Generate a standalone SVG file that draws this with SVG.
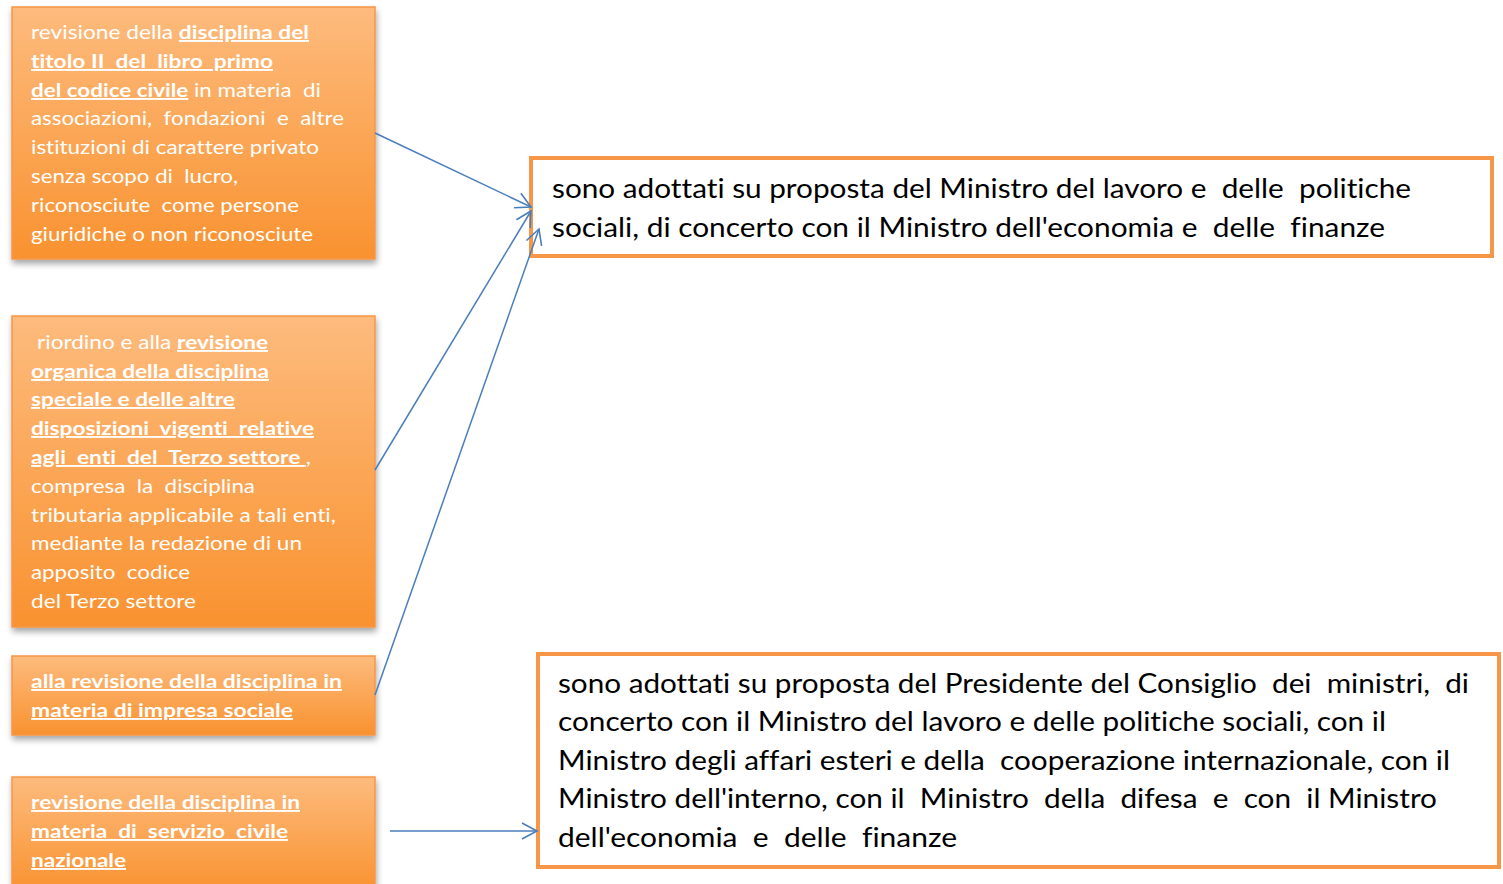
<svg xmlns="http://www.w3.org/2000/svg" width="1503" height="884" viewBox="0 0 1503 884" xml:space="preserve">
<defs>
<linearGradient id="og" x1="0" y1="0" x2="0" y2="1">
<stop offset="0" stop-color="#FDBB7D"/>
<stop offset="1" stop-color="#F99230"/>
</linearGradient>
<filter id="sh" x="-10%" y="-10%" width="125%" height="130%">
<feDropShadow dx="1" dy="4" stdDeviation="3" flood-color="#000" flood-opacity="0.35"/>
</filter>
<marker id="arr" markerUnits="userSpaceOnUse" markerWidth="20" markerHeight="20" refX="16" refY="9" orient="auto" viewBox="0 0 20 18">
<path d="M1,1 L16,9 L1,17" fill="none" stroke="#4A7EBB" stroke-width="1.6"/>
</marker>
</defs>
<style>
text{white-space:pre;font-variant-ligatures:none;font-feature-settings:"liga" 0,"dlig" 0}
.src{fill:url(#og);stroke:#F79646;stroke-width:1.5;filter:url(#sh)}
.dst{fill:#fff;stroke:#F79646;stroke-width:4}
.lt{font-family:Lato,"Liberation Sans",sans-serif;font-size:19px;fill:#fff}
.b{font-weight:bold;text-decoration:underline}
.rt{font-family:Lato,"Liberation Sans",sans-serif;font-size:27px;fill:#000}
.con{fill:none;stroke:#4A7EBB;stroke-width:1.5;marker-end:url(#arr)}
</style>
<rect width="1503" height="884" fill="#fff"/>
<g id="n1">
<rect class="src" x="12" y="7" width="363" height="252"/>
<text class="lt" x="31" y="39" textLength="278" lengthAdjust="spacingAndGlyphs">revisione della <tspan class="b">disciplina del</tspan></text>
<text class="lt" x="31" y="68" textLength="242" lengthAdjust="spacingAndGlyphs"><tspan class="b">titolo II  del  libro  primo</tspan></text>
<text class="lt" x="31" y="97" textLength="290" lengthAdjust="spacingAndGlyphs"><tspan class="b">del codice civile</tspan> in materia  di</text>
<text class="lt" x="31" y="125" textLength="313" lengthAdjust="spacingAndGlyphs">associazioni,  fondazioni  e  altre</text>
<text class="lt" x="31" y="154" textLength="288" lengthAdjust="spacingAndGlyphs">istituzioni di carattere privato</text>
<text class="lt" x="31" y="183" textLength="207" lengthAdjust="spacingAndGlyphs">senza scopo di  lucro,</text>
<text class="lt" x="31" y="212" textLength="268" lengthAdjust="spacingAndGlyphs">riconosciute  come persone</text>
<text class="lt" x="31" y="241" textLength="282" lengthAdjust="spacingAndGlyphs">giuridiche o non riconosciute</text>
</g>
<g id="n2">
<rect class="src" x="12" y="316" width="363" height="311"/>
<text class="lt" x="37" y="349" textLength="231" lengthAdjust="spacingAndGlyphs">riordino e alla <tspan class="b">revisione</tspan></text>
<text class="lt" x="31" y="378" textLength="238" lengthAdjust="spacingAndGlyphs"><tspan class="b">organica della disciplina</tspan></text>
<text class="lt" x="31" y="406" textLength="204" lengthAdjust="spacingAndGlyphs"><tspan class="b">speciale e delle altre</tspan></text>
<text class="lt" x="31" y="435" textLength="283" lengthAdjust="spacingAndGlyphs"><tspan class="b">disposizioni  vigenti  relative</tspan></text>
<text class="lt" x="31" y="464" textLength="280" lengthAdjust="spacingAndGlyphs"><tspan class="b">agli  enti  del  Terzo settore </tspan>,</text>
<text class="lt" x="31" y="493" textLength="224" lengthAdjust="spacingAndGlyphs">compresa  la  disciplina</text>
<text class="lt" x="31" y="522" textLength="305" lengthAdjust="spacingAndGlyphs">tributaria applicabile a tali enti,</text>
<text class="lt" x="31" y="550" textLength="271" lengthAdjust="spacingAndGlyphs">mediante la redazione di un</text>
<text class="lt" x="31" y="579" textLength="159" lengthAdjust="spacingAndGlyphs">apposito  codice</text>
<text class="lt" x="31" y="608" textLength="165" lengthAdjust="spacingAndGlyphs">del Terzo settore</text>
</g>
<g id="n3">
<rect class="src" x="12" y="656" width="363" height="79"/>
<text class="lt" x="31" y="688" textLength="311" lengthAdjust="spacingAndGlyphs"><tspan class="b">alla revisione della disciplina in</tspan></text>
<text class="lt" x="31" y="717" textLength="262" lengthAdjust="spacingAndGlyphs"><tspan class="b">materia di impresa sociale</tspan></text>
</g>
<g id="n4">
<rect class="src" x="12" y="777" width="363" height="115"/>
<text class="lt" x="31" y="809" textLength="269" lengthAdjust="spacingAndGlyphs"><tspan class="b">revisione della disciplina in</tspan></text>
<text class="lt" x="31" y="838" textLength="257" lengthAdjust="spacingAndGlyphs"><tspan class="b">materia  di  servizio  civile</tspan></text>
<text class="lt" x="31" y="867" textLength="95" lengthAdjust="spacingAndGlyphs"><tspan class="b">nazionale</tspan></text>
</g>
<g id="d1">
<rect class="dst" x="531" y="158" width="961" height="98"/>
<text class="rt" x="552" y="198" textLength="859" lengthAdjust="spacingAndGlyphs">sono adottati su proposta del Ministro del lavoro e  delle  politiche</text>
<text class="rt" x="552" y="237" textLength="833" lengthAdjust="spacingAndGlyphs">sociali, di concerto con il Ministro dell'economia e  delle  finanze</text>
</g>
<g id="d2">
<rect class="dst" x="538" y="654" width="961" height="213"/>
<text class="rt" x="558" y="693" textLength="911" lengthAdjust="spacingAndGlyphs">sono adottati su proposta del Presidente del Consiglio  dei  ministri,  di</text>
<text class="rt" x="558" y="731" textLength="828" lengthAdjust="spacingAndGlyphs">concerto con il Ministro del lavoro e delle politiche sociali, con il</text>
<text class="rt" x="558" y="770" textLength="892" lengthAdjust="spacingAndGlyphs">Ministro degli affari esteri e della  cooperazione internazionale, con il</text>
<text class="rt" x="558" y="808" textLength="879" lengthAdjust="spacingAndGlyphs">Ministro dell'interno, con il  Ministro  della  difesa  e  con  il Ministro</text>
<text class="rt" x="558" y="847" textLength="399" lengthAdjust="spacingAndGlyphs">dell'economia  e  delle  finanze</text>
</g>
<g id="connectors">
<line class="con" x1="375" y1="133" x2="531" y2="207"/>
<line class="con" x1="375" y1="470" x2="531" y2="211"/>
<line class="con" x1="375" y1="695" x2="539" y2="229"/>
<line class="con" x1="390" y1="831" x2="537" y2="831"/>
</g>
</svg>
